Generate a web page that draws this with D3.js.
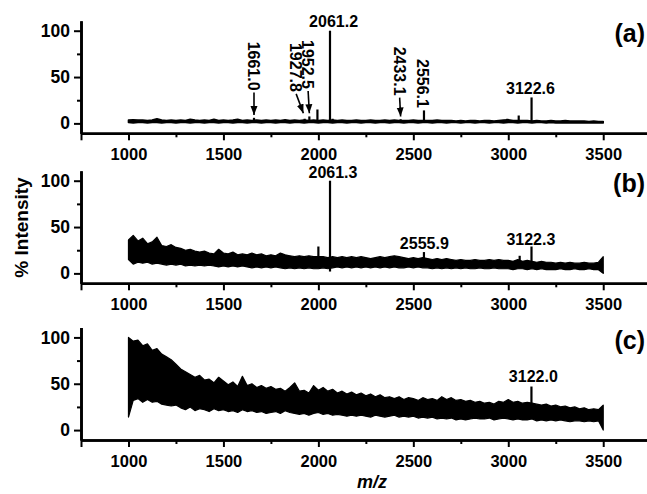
<!DOCTYPE html>
<html>
<head>
<meta charset="utf-8">
<script src="https://cdn.jsdelivr.net/npm/d3@7"></script>
<style>
  body { margin: 0; background: #fff; }
  text { font-family: "Liberation Sans", Arial, sans-serif; font-weight: bold; fill: #000; }
</style>
</head>
<body>
<svg id="chart"></svg>
<script>
var width = 647;
var height = 494;

// ticks
var xTicks = [750, 1000, 1500, 2000, 2500, 3000, 3500];
var xMinor = [1250, 1750, 2250, 2750, 3250, 3750];
var yTicks = [0, 50, 100];
var yMinor = [25, 75];
var panelLabels = ['(a)', '(b)', '(c)'];

// spectra sampled every 25 m/z from 1000 to 3500: upper / lower edge of the noise band (% intensity)
var mzGrid = d3.range(1000, 3501, 25);

var hiA = [3.5, 4, 3.5, 3.5, 3, 3.5, 5, 3.5, 3, 3.5,
           3, 3.5, 3, 4.5, 3.5, 3, 3.5, 3, 4.5, 3,
           3.5, 3, 3.5, 4.5, 3, 3.5, 3, 3.5, 3, 3.5,
           3, 3.5, 3, 4, 3, 3.5, 3, 3.5, 3, 3.5,
           3, 3.5, 3, 3.5, 3, 3.5, 3, 3, 3.5, 3,
           3, 3.5, 3, 3, 3.5, 3, 3.5, 3, 3, 3,
           3.5, 3, 3, 3, 3, 3.5, 3, 3, 3, 2.5,
           3, 2.5, 3, 3, 2.5, 3, 3, 2.5, 3, 3.5,
           4, 3, 3, 3, 3, 2.5, 3, 2.5, 2.5, 3,
           2.5, 2.5, 3, 2.5, 2.5, 2.5, 2.5, 2, 2.5, 2,
           2];
var loA = [1, 0.5, 1, 1, 0.5, 1, 1, 0.5, 1, 1,
           0.5, 1, 1, 0.5, 1, 1, 0.5, 1, 1, 0.5,
           1, 1, 0.5, 1, 1, 0.5, 1, 1, 0.5, 1,
           1, 0.5, 1, 1, 0.5, 1, 1, 0.5, 1, 1,
           0.5, 1, 1, 0.5, 1, 1, 0.5, 1, 1, 0.5,
           1, 1, 0.5, 1, 1, 0.5, 1, 1, 0.5, 1,
           1, 0.5, 1, 1, 0.5, 1, 1, 0.5, 1, 1,
           0.5, 1, 1, 0.5, 1, 1, 0.5, 1, 1, 0.5,
           1, 1, 0.5, 1, 1, 0.5, 1, 1, 0.5, 1,
           0.5, 0.5, 0.5, 0.5, 0.5, 0.5, 0.5, 0.5, 0.5, 0.5,
           0.5];

var hiB = [36, 41, 35, 38, 32, 34, 39, 30, 29, 31,
           28, 27, 25, 26, 24, 23, 24, 22, 21, 26,
           22, 21, 23, 20, 21, 20, 22, 20, 21, 19,
           20, 19, 22, 20, 19, 18, 19, 18, 19, 18,
           18, 18, 17, 18, 17, 18, 17, 18, 17, 18,
           17, 16, 17, 18, 17, 18, 19, 18, 17, 16,
           17, 16, 17, 16, 15, 16, 15, 16, 15, 14,
           15, 14, 14, 15, 14, 14, 15, 14, 15, 14,
           14, 13, 15, 13, 14, 13, 12, 13, 12, 12,
           11, 12, 11, 12, 11, 11, 12, 11, 11, 12,
           18];
var loB = [15, 10, 12, 11, 12, 10, 11, 10, 9, 10,
           9, 10, 8, 9, 8, 9, 8, 9, 8, 7,
           8, 7, 8, 7, 8, 7, 6, 7, 6, 7,
           6, 7, 6, 5, 6, 5, 6, 5, 6, 5,
           5, 6, 5, 6, 7, 6, 7, 6, 7, 6,
           7, 6, 7, 6, 7, 6, 7, 6, 6, 7,
           6, 7, 6, 6, 5, 6, 5, 6, 5, 6,
           5, 6, 5, 5, 6, 5, 5, 6, 5, 5,
           5, 4, 5, 5, 4, 5, 4, 5, 4, 4,
           4, 5, 4, 4, 5, 4, 4, 5, 4, 4,
           0];

var hiC = [100, 96, 97, 91, 93, 86, 88, 82, 79, 76,
           71, 66, 63, 60, 57, 59, 54, 55, 51, 57,
           53, 49, 52, 47, 58, 48, 50, 46, 48, 45,
           47, 44, 45, 42, 46, 51, 42, 43, 40, 48,
           43, 46, 42, 44, 40, 42, 39, 41, 38, 40,
           37, 39, 36, 38, 35, 36, 34, 36, 33, 35,
           34, 32, 35, 33, 34, 32, 36, 33, 35, 32,
           33, 31, 32, 30, 31, 29, 30, 28, 31, 30,
           33, 30, 31, 29, 30, 29, 28, 27, 28, 26,
           27, 25, 26, 24, 25, 23, 24, 22, 23, 22,
           27];
var loC = [14, 32, 34, 30, 33, 30, 31, 28, 27, 26,
           27, 24, 22, 25, 21, 23, 22, 20, 23, 21,
           22, 20, 21, 19, 22, 20, 21, 19, 20, 18,
           19, 20, 18, 21, 19, 18, 17, 18, 16, 18,
           19, 17, 18, 16, 17, 16, 15, 16, 15, 16,
           15, 14, 16, 15, 14, 15, 16, 14, 15, 14,
           15, 13, 14, 13, 14, 12, 13, 12, 13, 11,
           12, 11, 12, 13, 12, 12, 13, 11, 12, 13,
           12, 11, 12, 11, 11, 12, 10, 11, 10, 11,
           10, 11, 10, 9, 10, 10, 9, 10, 9, 10,
           0];

// narrow peaks on top of the band
var peakMzA = [1661.0, 1927.8, 1952.5, 1995, 2061.2, 2075, 2433.1, 2556.1, 2995, 3055, 3122.6];
var peakTopA = [6, 5, 7.5, 15, 100, 5, 4.5, 14, 5, 8.5, 28];
var peakBaseA = [1, 1, 1, 1, 1, 1, 1, 1, 1, 1, 1];
var peakMzB = [2000, 2061.3, 2555.9, 3060, 3122.3];
var peakTopB = [29, 100, 23, 19, 29];
var peakBaseB = [6, 2, 8, 6, 6];
var peakMzC = [3122.0];
var peakTopC = [47];
var peakBaseC = [12];

// horizontal peak labels
var labTextA = ['2061.2', '3122.6'];
var labMzA = [2080, 3117];
var labValA = [104.3, 31.7];
var labTextB = ['2061.3', '2555.9', '3122.3'];
var labMzB = [2077, 2558, 3119];
var labValB = [102.6, 26, 30.7];
var labTextC = ['3122.0'];
var labMzC = [3132];
var labValC = [52.2];

// vertical labels with arrows (panel a)
var rotText = ['1661.0', '1927.8', '1952.5', '2433.1', '2556.1'];
var rotMz = [1661, 1883, 1946, 2428, 2551];
var rotTop = [88.2, 86.8, 90, 82.8, 69.5];
var arrowMz = [1661, 1921, 1952.5, 2433.1, null];
var arrowTip = [9, 11, 11, 7.5, null];

var panels = [
  {hi: hiA, lo: loA, pMz: peakMzA, pTop: peakTopA, pBase: peakBaseA, lText: labTextA, lMz: labMzA, lVal: labValA, axisY: 133.3},
  {hi: hiB, lo: loB, pMz: peakMzB, pTop: peakTopB, pBase: peakBaseB, lText: labTextB, lMz: labMzB, lVal: labValB, axisY: 283.3},
  {hi: hiC, lo: loC, pMz: peakMzC, pTop: peakTopC, pBase: peakBaseC, lText: labTextC, lMz: labMzC, lVal: labValC, axisY: 440}
];
var panelH = 112.5;

var svg = d3.select('#chart')
  .attr('width', width)
  .attr('height', height);

svg.append('defs').append('marker')
  .attr('id', 'arrow')
  .attr('markerUnits', 'userSpaceOnUse')
  .attr('markerWidth', 9)
  .attr('markerHeight', 8)
  .attr('refX', 9)
  .attr('refY', 4)
  .attr('orient', 'auto')
  .append('path')
  .attr('d', 'M0,0.5 L9,4 L0,7.5 Z')
  .attr('fill', '#000');

var x = d3.scaleLinear()
  .domain([750, 3750])
  .range([81, 650.7]);

panels.forEach(function(p, i) {
  var y = d3.scaleLinear()
    .domain([-10.7, 110.7])
    .range([p.axisY, p.axisY - panelH]);

  var g = svg.append('g');

  // noise band
  var area = d3.area()
    .x(function(d, j) { return x(mzGrid[j]); })
    .y0(function(d, j) { return y(p.lo[j]); })
    .y1(function(d, j) { return y(p.hi[j]); });

  g.append('path')
    .datum(mzGrid)
    .attr('d', area)
    .attr('fill', '#000')
    .attr('stroke', '#000')
    .attr('stroke-width', i === 0 ? 1.6 : 1.2)
    .attr('stroke-linejoin', 'round');

  // peaks
  g.selectAll('line.peak')
    .data(p.pMz)
    .enter().append('line')
      .attr('class', 'peak')
      .attr('x1', function(d) { return x(d); })
      .attr('x2', function(d) { return x(d); })
      .attr('y1', function(d, j) { return y(p.pBase[j]); })
      .attr('y2', function(d, j) { return y(p.pTop[j]); })
      .attr('stroke', '#000')
      .attr('stroke-width', 2.2);

  // peak labels
  g.selectAll('text.plab')
    .data(p.lText)
    .enter().append('text')
      .attr('class', 'plab')
      .attr('x', function(d, j) { return x(p.lMz[j]); })
      .attr('y', function(d, j) { return y(p.lVal[j]); })
      .attr('text-anchor', 'middle')
      .attr('font-size', 16)
      .text(function(d) { return d; });

  // x axis
  var xAxis = g.append('g')
    .attr('transform', 'translate(0,' + p.axisY + ')')
    .call(d3.axisBottom(x)
      .tickValues(xTicks)
      .tickSize(7)
      .tickSizeOuter(0)
      .tickPadding(8)
      .tickFormat(function(d) { return d === 750 ? '' : d; }));
  xAxis.append('g').call(d3.axisBottom(x).tickValues(xMinor).tickSize(4).tickSizeOuter(0).tickFormat(''));
  xAxis.selectAll('text').attr('font-size', 16.5).attr('font-family', null).attr('fill', '#000');
  xAxis.selectAll('.domain').attr('stroke-width', 2.6);
  xAxis.selectAll('.tick line').attr('stroke-width', 2);

  // y axis
  var yAxis = g.append('g')
    .attr('transform', 'translate(81,0)')
    .call(d3.axisLeft(y)
      .tickValues(yTicks)
      .tickSize(7)
      .tickSizeOuter(0)
      .tickPadding(4));
  yAxis.append('g').call(d3.axisLeft(y).tickValues(yMinor).tickSize(4).tickSizeOuter(0).tickFormat(''));
  yAxis.selectAll('text').attr('font-size', 17.5).attr('font-family', null).attr('fill', '#000');
  yAxis.selectAll('.domain').attr('stroke-width', 2.6);
  yAxis.selectAll('.tick line').attr('stroke-width', 2);

  // panel label
  g.append('text')
    .attr('x', 645)
    .attr('y', p.axisY - 91)
    .attr('text-anchor', 'end')
    .attr('font-size', 25)
    .text(panelLabels[i]);

  // rotated labels with arrows in panel (a)
  if (i === 0) {
    rotText.forEach(function(t, k) {
      var tx = x(rotMz[k]);
      var ty = y(rotTop[k]);
      var lab = g.append('text')
        .attr('transform', 'translate(' + tx + ',' + ty + ') rotate(90)')
        .attr('dy', '0.36em')
        .attr('font-size', 16)
        .text(t);
      var len = lab.node().getComputedTextLength();
      if (arrowMz[k] !== null) {
        g.append('line')
          .attr('x1', tx)
          .attr('y1', ty + len + 2)
          .attr('x2', x(arrowMz[k]))
          .attr('y2', y(arrowTip[k]))
          .attr('stroke', '#000')
          .attr('stroke-width', 1.6)
          .attr('marker-end', 'url(#arrow)');
      }
    });
  }
});

// axis titles
svg.append('text')
  .attr('transform', 'translate(21.5,227.5) rotate(-90)')
  .attr('dy', '0.36em')
  .attr('text-anchor', 'middle')
  .attr('font-size', 19)
  .text('% Intensity');

svg.append('text')
  .attr('x', 372)
  .attr('y', 488)
  .attr('text-anchor', 'middle')
  .attr('font-size', 18)
  .attr('font-style', 'italic')
  .text('m/z');
</script>
</body>
</html>
